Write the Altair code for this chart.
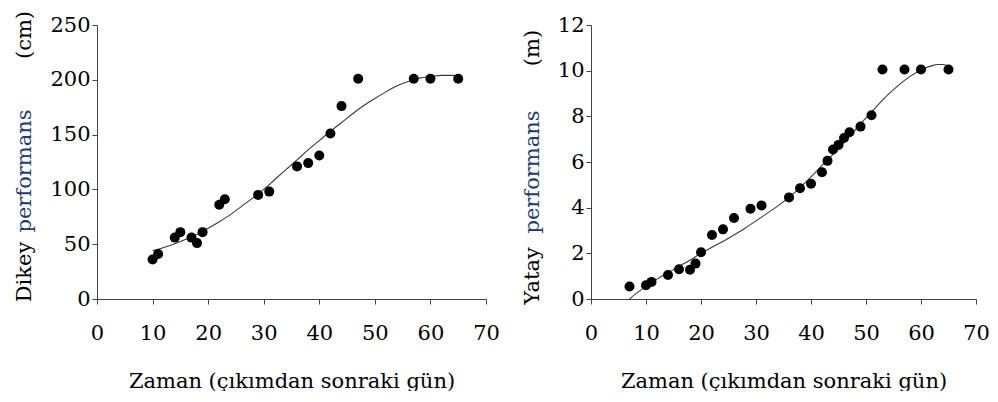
import altair as alt
import pandas as pd

# Left panel: vertical performance (cm)
left_x = [10, 11, 14, 15, 17, 18, 19, 22, 23, 29, 31, 36, 38, 40, 42, 44, 47, 57, 60, 65]
left_y = [36, 41, 56, 61, 56, 51, 61, 86, 91, 95, 98, 121, 124, 131, 151, 176, 201, 201, 201, 201]
left_curve_x = [10, 12, 14, 16, 18, 20, 22, 24, 26, 28, 30, 32, 34, 36, 38, 40, 42, 44, 46, 48, 50, 52, 54, 56, 58, 60, 62, 64, 65]
left_curve_y = [44, 47, 50.5, 54.5, 59, 64.5, 70.5, 77, 84.5, 92, 100, 109, 118, 127, 136, 144.5, 153, 161, 169, 176.5, 183, 189, 194.5, 198.5, 201.5, 203, 204, 204, 203.5]

# Right panel: horizontal performance (m)
right_x = [7, 10, 11, 14, 16, 18, 19, 20, 22, 24, 26, 29, 31, 36, 38, 40, 42, 43, 44, 45, 46, 47, 49, 51, 53, 57, 60, 65]
right_y = [0.55, 0.6, 0.75, 1.05, 1.3, 1.28, 1.55, 2.05, 2.8, 3.05, 3.55, 3.95, 4.1, 4.45, 4.85, 5.05, 5.55, 6.05, 6.55, 6.75, 7.05, 7.3, 7.55, 8.05, 10.05, 10.05, 10.05, 10.05]
right_curve_x = [7, 8, 10, 12, 14, 16, 18, 20, 22, 24, 26, 28, 30, 32, 34, 36, 38, 40, 42, 44, 46, 48, 50, 52, 54, 56, 58, 60, 62, 63, 64, 65]
right_curve_y = [0, 0.2, 0.55, 0.87, 1.15, 1.43, 1.7, 2.0, 2.27, 2.52, 2.8, 3.1, 3.42, 3.75, 4.08, 4.45, 4.88, 5.35, 5.85, 6.33, 6.85, 7.4, 7.93, 8.45, 8.95, 9.38, 9.75, 10.03, 10.22, 10.27, 10.27, 10.2]

x_ticks = [0, 10, 20, 30, 40, 50, 60, 70]
left_ticks = [0, 50, 100, 150, 200, 250]
right_ticks = [0, 2, 4, 6, 8, 10, 12]

x_title = "Zaman (çıkımdan sonraki gün)"
left_title_words = ["Dikey", "performans", "(cm)"]
right_title_words = ["Yatay", "performans", "(m)"]
title_word_colors = ["black", "#1f3b73", "black"]

FONT = "DejaVu Serif"
FS = 21
AX = "#444444"


def ytitle_layer(words, xpos, ypos):
    one = pd.DataFrame({"a": [0]})
    layers = []
    for w, c, yp in zip(words, title_word_colors, ypos):
        layers.append(
            alt.Chart(one).mark_text(text=w, angle=270, align="center", baseline="middle",
                                     font=FONT, fontSize=FS, color=c)
            .encode(x=alt.value(xpos), y=alt.value(yp))
        )
    return layers


def panel(px, py, cx, cy, yticks, ymax, words, tx, typos, width):
    pts = pd.DataFrame({"x": px, "y": py})
    crv = pd.DataFrame({"x": cx, "y": cy})
    xenc = alt.X("x:Q", scale=alt.Scale(domain=[0, 70], nice=False, zero=True),
                 axis=alt.Axis(values=x_ticks, title=x_title, grid=False, labelFlush=False,
                               tickSize=5, labelPadding=18, titlePadding=27,
                               domainColor=AX, tickColor=AX))
    yenc = alt.Y("y:Q", scale=alt.Scale(domain=[0, ymax], nice=False),
                 axis=alt.Axis(values=yticks, title=None, grid=False,
                               tickSize=5, labelPadding=2,
                               domainColor=AX, tickColor=AX))
    line = alt.Chart(crv).mark_line(color="#3a3a3a", strokeWidth=1.1, interpolate="monotone").encode(
        x=xenc, y=yenc)
    dots = alt.Chart(pts).mark_circle(size=100, color="black", opacity=1).encode(
        x="x:Q", y="y:Q")
    return alt.layer(line, dots, *ytitle_layer(words, tx, typos)).properties(width=width, height=274)


left = panel(left_x, left_y, left_curve_x, left_curve_y, left_ticks, 250,
             left_title_words, -72, [247, 146, 10], 389)
right = panel(right_x, right_y, right_curve_x, right_curve_y, right_ticks, 12,
              right_title_words, -58, [251, 147, 23], 385)

chart = alt.hconcat(left, right, spacing=22).configure_view(stroke=None).configure_axis(
    labelFont=FONT, titleFont=FONT, labelFontSize=FS, titleFontSize=FS,
    labelColor="black", titleColor="black", titleFontWeight="normal",
    domainWidth=1, tickWidth=1
).properties(background="white", padding={"left": 6, "top": 2, "right": 0, "bottom": 0})

chart.save("out.html", embed_options={"renderer": "svg", "actions": False})
